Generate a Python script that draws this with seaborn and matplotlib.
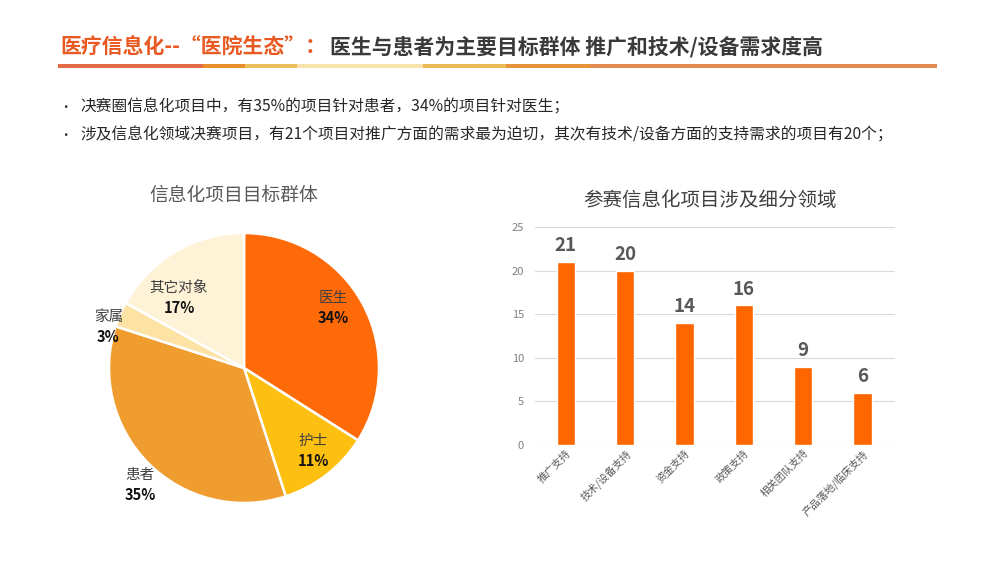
import numpy as np
import matplotlib
matplotlib.use('Agg')
import matplotlib.pyplot as plt
from matplotlib.patches import Rectangle
import seaborn as sns

# Data
pie_labels = ['医生', '护士', '患者', '家属', '其它对象']
pie_values = [34, 11, 35, 3, 17]
pie_colors = ['#FF6A08', '#FDBF10', '#EF9D2F', '#FCE3A4', '#FEF2D7']
# label placement: (radius factor, angle shift in degrees from wedge middle)
pie_label_radius = [0.80, 0.80, 1.16, 1.05, 0.71]
pie_label_shift = [5, 2, 3.4, 6.6, 12]

bar_cats = ['推广支持', '技术/设备支持', '资金支持', '政策支持', '相关团队支持', '产品落地/临床支持']
bar_vals = [21, 20, 14, 16, 9, 6]
y_ticks = [0, 5, 10, 15, 20, 25]

title_orange = '医疗信息化--“医院生态”：'
title_dark = '医生与患者为主要目标群体 推广和技术/设备需求度高'
bullets = ['决赛圈信息化项目中，有35%的项目针对患者，34%的项目针对医生；',
           '涉及信息化领域决赛项目，有21个项目对推广方面的需求最为迫切，其次有技术/设备方面的支持需求的项目有20个；']
underline_segments = [(58, 203, '#E36C46'), (203, 245, '#E8902E'), (245, 297, '#EBBE5A'),
                      (297, 423, '#F8E3AA'), (423, 506, '#EBBA55'), (506, 590, '#E8923A'),
                      (590, 937, '#E38A50')]

sns.set_theme(style='white')
cjk = ['Noto Sans CJK SC', 'DejaVu Sans']
plt.rcParams['font.family'] = cjk
narrow_bold = ['Liberation Sans Narrow', 'Noto Sans CJK SC', 'DejaVu Sans']

W, H = 1000, 563
fig = plt.figure(figsize=(W / 100, H / 100), dpi=100)
fig.patch.set_facecolor('white')

def fx(px):
    return px / W

def fy(py):
    return 1 - py / H

# Header title (two colours)
t1 = fig.text(fx(60), fy(47), title_orange, color='#E85A22', fontsize=15,
              fontweight='bold', va='center', ha='left')
renderer = fig.canvas.get_renderer()
bb = t1.get_window_extent(renderer=renderer)
fig.text(bb.x1 / W + fx(4), fy(47), title_dark, color='#3A3A3A', fontsize=15,
         fontweight='bold', va='center', ha='left')

# Underline bar
for x0, x1, c in underline_segments:
    fig.add_artist(Rectangle((fx(x0), fy(68)), fx(x1 - x0), 4 / H,
                             transform=fig.transFigure, color=c, lw=0))

# Bullets
for i, b in enumerate(bullets):
    yy = fy(107 + 28 * i)
    fig.text(fx(59), yy, '•', fontsize=9, color='#262626', va='center')
    fig.text(fx(80), yy, b, fontsize=11.3, color='#262626', va='center')

# Pie chart
cx, cy, r = 244, 368, 135
ax_pie = fig.add_axes([fx(cx - r), fy(cy + r), fx(2 * r), 2 * r / H])
wedges, _ = ax_pie.pie(pie_values, colors=pie_colors, startangle=90, counterclock=False,
                       wedgeprops=dict(edgecolor='white', linewidth=1.8))
ax_pie.set_xlim(-1, 1)
ax_pie.set_ylim(-1, 1)
ax_pie.set_aspect('equal')
for w, lab, v, rr, sh in zip(wedges, pie_labels, pie_values, pie_label_radius, pie_label_shift):
    ang = np.deg2rad((w.theta1 + w.theta2) / 2 + sh)
    x, y = rr * np.cos(ang), rr * np.sin(ang)
    ax_pie.text(x, y + 0.075, lab, ha='center', va='center', fontsize=10.5, color='#404040')
    ax_pie.text(x, y - 0.075, f'{v}%', ha='center', va='center', fontsize=10.5,
                fontweight='bold', color='#111111', family=narrow_bold)
fig.text(fx(234), fy(195), '信息化项目目标群体', ha='center', va='center',
         fontsize=13.5, color='#595959')

# Bar chart
ax_bar = fig.add_axes([fx(535), fy(445), fx(360), (445 - 227) / H])
sns.barplot(x=bar_cats, y=bar_vals, color='#FF6600', width=0.31, saturation=1, ax=ax_bar)
ax_bar.set_ylim(0, 25)
ax_bar.set_xlim(-0.52, 5.55)
ax_bar.set_yticks(y_ticks)
ax_bar.yaxis.grid(True, color='#D9D9D9', linewidth=0.8)
ax_bar.set_axisbelow(True)
for s in ax_bar.spines.values():
    s.set_visible(False)
ax_bar.tick_params(axis='y', length=0, labelsize=8, labelcolor='#808080', pad=8)
ax_bar.tick_params(axis='x', length=0, labelsize=7.5, labelcolor='#595959', pad=2)
plt.setp(ax_bar.get_xticklabels(), rotation=45, ha='right', rotation_mode='anchor')
ax_bar.bar_label(ax_bar.containers[0], padding=5, fontsize=13.5, fontweight='bold',
                 color='#595959', family=narrow_bold)
fig.text(fx(710), fy(200), '参赛信息化项目涉及细分领域', ha='center', va='center',
         fontsize=14, color='#404040')

fig.savefig('out.png', dpi=100)
